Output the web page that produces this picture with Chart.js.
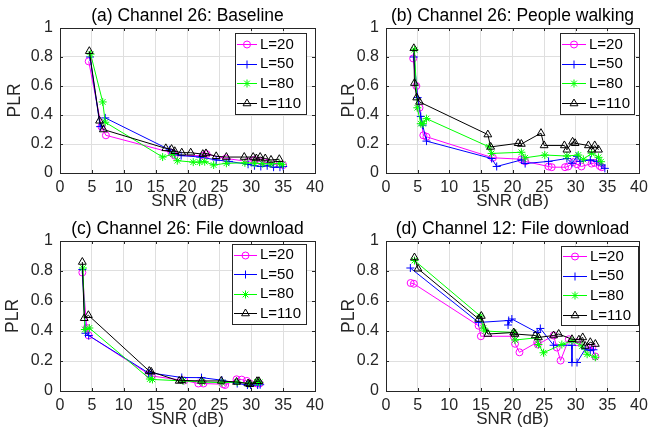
<!DOCTYPE html>
<html><head><meta charset="utf-8">
<script src="https://cdn.jsdelivr.net/npm/chart.js@4.4.0/dist/chart.umd.min.js"></script>
<style>
html,body{margin:0;padding:0;background:#fff;}
#wrap{position:relative;width:663px;height:435px;overflow:hidden;}
canvas{position:absolute;}
</style></head><body><div id="wrap"></div>
<script>
// ---------- data ----------
const panelTitles = ['(a) Channel 26: Baseline', '(b) Channel 26: People walking', '(c) Channel 26: File download', '(d) Channel 12: File download'];
const seriesLabels = ['L=20', 'L=50', 'L=80', 'L=110'];
const xTicks = [0, 5, 10, 15, 20, 25, 30, 35, 40];
const yTicks = [0, 0.2, 0.4, 0.6, 0.8, 1];
const xAxisTitle = 'SNR (dB)';
const yAxisTitle = 'PLR';

// (a) Baseline
const a20x = [4.5, 6.5, 7.2, 17.5, 18.0, 22.5, 23.0, 26.0, 29.5, 30.5, 31.5, 32.5, 33.5, 34.5, 35.0];
const a20y = [0.77, 0.32, 0.26, 0.14, 0.12, 0.12, 0.13, 0.10, 0.08, 0.09, 0.08, 0.07, 0.06, 0.06, 0.055];
const a50x = [4.7, 6.3, 7.1, 17.2, 18.0, 19.0, 22.0, 24.5, 26.5, 29.5, 30.5, 31.5, 32.5, 33.5, 34.5, 35.0];
const a50y = [0.80, 0.32, 0.38, 0.16, 0.13, 0.12, 0.11, 0.09, 0.08, 0.06, 0.05, 0.045, 0.05, 0.04, 0.04, 0.045];
const a80x = [4.8, 6.7, 7.1, 16.1, 17.7, 18.4, 20.9, 21.9, 22.7, 24.1, 26.1, 29.0, 30.5, 31.8, 33.1, 34.4, 34.9];
const a80y = [0.82, 0.49, 0.35, 0.11, 0.13, 0.085, 0.075, 0.075, 0.078, 0.055, 0.067, 0.07, 0.068, 0.064, 0.062, 0.066, 0.06];
const a110x = [4.6, 6.2, 6.8, 16.6, 17.5, 18.0, 19.1, 20.5, 22.4, 22.9, 24.5, 26.1, 28.9, 30.3, 30.8, 31.4, 32.2, 33.1, 34.4];
const a110y = [0.84, 0.36, 0.30, 0.17, 0.165, 0.15, 0.14, 0.14, 0.13, 0.135, 0.115, 0.11, 0.11, 0.11, 0.10, 0.11, 0.10, 0.09, 0.095];

// (b) People walking
const b20x = [4.3, 4.8, 5.3, 5.9, 6.4, 16.9, 21.4, 22.0, 25.7, 26.2, 28.3, 28.8, 29.6, 30.2, 30.9, 32.5, 33.0, 33.8, 34.1];
const b20y = [0.79, 0.60, 0.45, 0.26, 0.25, 0.105, 0.095, 0.08, 0.045, 0.04, 0.04, 0.045, 0.075, 0.06, 0.045, 0.065, 0.07, 0.048, 0.04];
const b50x = [4.4, 5.0, 5.5, 5.8, 6.4, 16.7, 17.5, 21.4, 22.0, 25.7, 28.6, 29.4, 30.2, 30.7, 32.3, 33.3, 34.1, 34.6];
const b50y = [0.80, 0.52, 0.39, 0.33, 0.22, 0.10, 0.045, 0.09, 0.065, 0.08, 0.10, 0.067, 0.115, 0.08, 0.09, 0.08, 0.055, 0.032];
const b80x = [4.5, 4.95, 5.5, 5.85, 6.4, 16.3, 16.7, 21.4, 22.0, 25.1, 28.6, 30.4, 31.2, 32.5, 33.6, 34.0];
const b80y = [0.85, 0.45, 0.34, 0.34, 0.375, 0.18, 0.135, 0.143, 0.105, 0.124, 0.117, 0.124, 0.094, 0.136, 0.108, 0.078];
const b110x = [4.4, 4.5, 4.85, 5.3, 16.1, 16.55, 20.9, 21.4, 24.5, 25.0, 28.2, 28.6, 29.5, 29.9, 32.0, 32.5, 33.0, 33.6];
const b110y = [0.86, 0.62, 0.52, 0.49, 0.265, 0.18, 0.205, 0.20, 0.275, 0.19, 0.19, 0.16, 0.215, 0.205, 0.19, 0.16, 0.19, 0.16];

// (c) Channel 26 file download
const c20x = [3.5, 4.2, 4.5, 14.0, 14.4, 19.5, 21.7, 22.5, 25.6, 25.9, 27.7, 28.5, 29.3, 29.8, 30.9, 31.3];
const c20y = [0.79, 0.42, 0.37, 0.11, 0.10, 0.07, 0.05, 0.05, 0.045, 0.04, 0.078, 0.076, 0.067, 0.05, 0.05, 0.05];
const c50x = [3.5, 4.0, 4.5, 13.9, 14.3, 19.1, 22.2, 25.4, 27.8, 29.4, 29.9, 31.0, 31.4];
const c50y = [0.81, 0.385, 0.37, 0.12, 0.12, 0.09, 0.089, 0.072, 0.05, 0.04, 0.04, 0.04, 0.042];
const c80x = [3.6, 3.9, 4.6, 14.1, 14.5, 19.3, 22.3, 25.4, 27.8, 29.6, 30.9, 31.3];
const c80y = [0.82, 0.41, 0.42, 0.08, 0.077, 0.067, 0.06, 0.055, 0.06, 0.05, 0.06, 0.058];
const c110x = [3.5, 3.8, 4.45, 14.0, 14.3, 18.7, 19.1, 22.2, 25.3, 27.7, 29.5, 29.8, 30.9, 31.2];
const c110y = [0.86, 0.485, 0.505, 0.133, 0.128, 0.067, 0.071, 0.067, 0.067, 0.06, 0.05, 0.045, 0.065, 0.065];

// (d) Channel 12 file download
const d20x = [3.9, 4.4, 14.65, 15.0, 20.2, 20.4, 21.1, 23.9, 24.0, 26.5, 27.0, 27.6, 28.9, 30.2, 32.0, 32.6, 33.1];
const d20y = [0.72, 0.715, 0.435, 0.365, 0.365, 0.315, 0.258, 0.325, 0.31, 0.37, 0.29, 0.203, 0.345, 0.325, 0.29, 0.29, 0.23];
const d50x = [3.85, 14.65, 19.4, 19.3, 19.9, 23.9, 24.4, 26.5, 29.4, 29.4, 30.2, 31.5, 32.3, 32.8];
const d50y = [0.82, 0.457, 0.47, 0.44, 0.48, 0.39, 0.417, 0.305, 0.305, 0.19, 0.19, 0.28, 0.27, 0.275];
const d80x = [4.5, 14.9, 15.4, 15.7, 20.2, 20.4, 23.9, 24.1, 24.9, 27.8, 29.4, 31.0, 31.8, 33.1];
const d80y = [0.87, 0.50, 0.42, 0.40, 0.39, 0.34, 0.355, 0.31, 0.255, 0.31, 0.335, 0.30, 0.245, 0.225];
const d110x = [4.5, 5.06, 14.65, 15.07, 16.1, 20.2, 20.4, 23.6, 24.1, 26.5, 27.3, 29.4, 30.5, 31.1, 31.5, 32.3, 33.1];
const d110y = [0.89, 0.815, 0.48, 0.50, 0.38, 0.39, 0.38, 0.37, 0.357, 0.37, 0.38, 0.345, 0.342, 0.357, 0.30, 0.325, 0.313];

const panelData = [
  [[a20x, a20y], [a50x, a50y], [a80x, a80y], [a110x, a110y]],
  [[b20x, b20y], [b50x, b50y], [b80x, b80y], [b110x, b110y]],
  [[c20x, c20y], [c50x, c50y], [c80x, c80y], [c110x, c110y]],
  [[d20x, d20y], [d50x, d50y], [d80x, d80y], [d110x, d110y]],
];

// ---------- styles / layout ----------
const FONT = '"Liberation Sans", Arial, Helvetica, sans-serif';
const seriesStyles = [
  {color: '#ff00ff', pointStyle: 'circle', radius: 3.5},
  {color: '#0000ff', pointStyle: 'cross', radius: 4},
  {color: '#00ff00', pointStyle: 'star', radius: 4},
  {color: '#000000', pointStyle: 'triangle', radius: 4.5},
];
const layouts = [
  {left: 0, top: 0, w: 331, h: 217, area: {l: 60, r: 315, t: 28, b: 173}, ylabX: 15, titleY: 16.5, leg: {x: 235, y: 33, w: 71, h: 81, text: 25}},
  {left: 331, top: 0, w: 332, h: 217, area: {l: 386, r: 639, t: 28, b: 173}, ylabX: 349, titleY: 16.5, leg: {x: 560, y: 33, w: 74, h: 81, text: 29}},
  {left: 0, top: 217, w: 331, h: 218, area: {l: 60, r: 315, t: 241, b: 391}, ylabX: 13, titleY: 229, leg: {x: 232, y: 244, w: 74, h: 80, text: 28}},
  {left: 331, top: 217, w: 332, h: 218, area: {l: 386, r: 639, t: 241, b: 391}, ylabX: 349, titleY: 229, leg: {x: 561, y: 246, w: 77, h: 79, text: 29}},
];

function drawMarker(ctx, st, x, y) {
  ctx.save();
  ctx.strokeStyle = st.color;
  ctx.fillStyle = 'rgba(0,0,0,0)';
  ctx.lineWidth = 1;
  try {
    Chart.helpers.drawPoint(ctx, {pointStyle: st.pointStyle, radius: st.radius, borderWidth: 1, rotation: 0}, x, y);
  } catch (e) {
    ctx.beginPath(); ctx.arc(x, y, st.radius, 0, Math.PI * 2); ctx.stroke();
  }
  ctx.restore();
}

const framePlugin = {
  id: 'frame',
  afterDraw(chart, args, opts) {
    const ctx = chart.ctx, a = chart.chartArea, L = opts.lay;
    const xs = chart.scales.x, ys = chart.scales.y;
    ctx.save();
    ctx.strokeStyle = '#262626';
    ctx.lineWidth = 1;
    const tl = 3;
    ctx.beginPath();
    xTicks.forEach(v => {
      const px = Math.round(xs.getPixelForValue(v)) + 0.5;
      ctx.moveTo(px, a.bottom); ctx.lineTo(px, a.bottom - tl);
      ctx.moveTo(px, a.top); ctx.lineTo(px, a.top + tl);
    });
    yTicks.forEach(v => {
      const py = Math.round(ys.getPixelForValue(v)) + 0.5;
      ctx.moveTo(a.left, py); ctx.lineTo(a.left + tl, py);
      ctx.moveTo(a.right, py); ctx.lineTo(a.right - tl, py);
    });
    ctx.stroke();
    ctx.strokeRect(Math.round(a.left) + 0.5, Math.round(a.top) + 0.5, Math.round(a.right - a.left), Math.round(a.bottom - a.top));

    // title
    ctx.fillStyle = '#000';
    ctx.font = '17.5px ' + FONT;
    ctx.textAlign = 'center';
    ctx.textBaseline = 'middle';
    ctx.fillText(opts.title, (a.left + a.right) / 2, L.titleY - L.top);

    // legend
    const lg = L.leg;
    const bx = lg.x - L.left, by = lg.y - L.top;
    ctx.fillStyle = '#fff';
    ctx.fillRect(bx, by, lg.w, lg.h);
    ctx.strokeStyle = '#262626';
    ctx.strokeRect(bx + 0.5, by + 0.5, lg.w, lg.h);
    ctx.font = '15px ' + FONT;
    ctx.textAlign = 'left';
    ctx.textBaseline = 'middle';
    seriesLabels.forEach((lab, i) => {
      const st = seriesStyles[i];
      const cy = by + lg.h / 2 + (i - 1.5) * 19.6;
      const x0 = bx + 2, x1 = bx + lg.text - 3;
      ctx.strokeStyle = st.color;
      ctx.lineWidth = 1;
      ctx.beginPath(); ctx.moveTo(x0, Math.round(cy) + 0.5); ctx.lineTo(x1, Math.round(cy) + 0.5); ctx.stroke();
      drawMarker(ctx, st, (x0 + x1) / 2, Math.round(cy) + 0.5);
      ctx.fillStyle = '#000';
      ctx.fillText(lab, bx + lg.text, cy + 0.5);
    });
    ctx.restore();
  }
};

const wrap = document.getElementById('wrap');
layouts.forEach((L, p) => {
  const cv = document.createElement('canvas');
  cv.width = L.w; cv.height = L.h;
  cv.style.left = L.left + 'px'; cv.style.top = L.top + 'px';
  cv.style.width = L.w + 'px'; cv.style.height = L.h + 'px';
  wrap.appendChild(cv);
  const datasets = panelData[p].map((pair, i) => {
    const st = seriesStyles[i];
    return {
      label: seriesLabels[i],
      data: pair[0].map((x, k) => ({x: x, y: pair[1][k]})),
      showLine: true,
      tension: 0,
      borderColor: st.color,
      backgroundColor: 'rgba(0,0,0,0)',
      borderWidth: 1,
      pointStyle: st.pointStyle,
      pointRadius: st.radius,
      pointBorderColor: st.color,
      pointBackgroundColor: 'rgba(0,0,0,0)',
      pointBorderWidth: 1,
      order: 3 - i,
    };
  });
  const yW = L.area.l - L.left;
  const xH = L.top + L.h - L.area.b;
  new Chart(cv, {
    type: 'scatter',
    data: {datasets},
    options: {
      responsive: false,
      animation: false,
      events: [],
      layout: {padding: {left: 0, bottom: 0, top: L.area.t - L.top, right: L.left + L.w - L.area.r}},
      plugins: {
        legend: {display: false},
        tooltip: {enabled: false},
        title: {display: false},
        frame: {lay: L, title: panelTitles[p]},
      },
      scales: {
        x: {
          type: 'linear', min: 0, max: 40,
          afterBuildTicks: s => { s.ticks = xTicks.map(v => ({value: v})); },
          afterFit: s => { s.height = xH; },
          grid: {color: '#dfdfdf', lineWidth: 1, drawTicks: false},
          border: {display: false},
          ticks: {padding: 5, color: '#262626', font: {family: FONT, size: 16}, maxRotation: 0, autoSkip: false, callback: v => String(v)},
          title: {display: true, text: xAxisTitle, color: '#262626', font: {family: FONT, size: 17}, padding: {top: 0, bottom: 5}},
        },
        y: {
          type: 'linear', min: 0, max: 1,
          afterBuildTicks: s => { s.ticks = yTicks.map(v => ({value: v})); },
          afterFit: s => { s.width = yW; },
          grid: {color: '#dfdfdf', lineWidth: 1, drawTicks: false},
          border: {display: false},
          ticks: {padding: 7, color: '#262626', font: {family: FONT, size: 16}, autoSkip: false, callback: v => String(+v.toFixed(1))},
          title: {display: true, text: yAxisTitle, color: '#262626', font: {family: FONT, size: 17.5}, padding: {top: L.ylabX - L.left - 10.5, bottom: 0}},
        },
      },
    },
    plugins: [framePlugin],
  });
});
</script></body></html>
